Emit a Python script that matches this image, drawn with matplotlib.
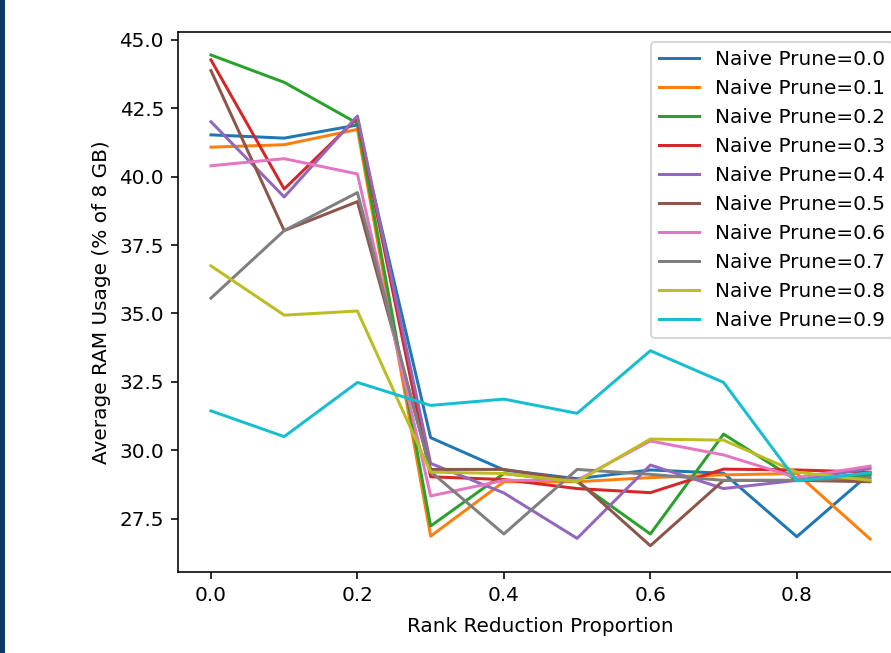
import matplotlib
matplotlib.use("Agg")
import matplotlib.pyplot as plt
from matplotlib.patches import Rectangle

# rank reduction proportions (x axis)
rank_reduction = [0.0, 0.1, 0.2, 0.3, 0.4, 0.5, 0.6, 0.7, 0.8, 0.9]

# average RAM usage (% of 8 GB), one list per naive prune level
prune_levels = [0.0, 0.1, 0.2, 0.3, 0.4, 0.5, 0.6, 0.7, 0.8, 0.9]
ram_p00 = [41.53, 41.41, 41.89, 30.46, 29.28, 28.96, 29.28, 29.16, 26.84, 29.16]
ram_p01 = [41.08, 41.17, 41.73, 26.86, 28.85, 28.85, 29.00, 29.10, 29.15, 26.76]
ram_p02 = [44.45, 43.45, 41.95, 27.23, 29.15, 28.85, 26.94, 30.59, 28.90, 29.10]
ram_p03 = [44.27, 39.55, 42.15, 29.03, 28.93, 28.60, 28.45, 29.31, 29.28, 29.20]
ram_p04 = [42.01, 39.26, 42.22, 29.52, 28.44, 26.78, 29.46, 28.60, 28.90, 29.34]
ram_p05 = [43.88, 38.03, 39.09, 29.30, 29.30, 28.90, 26.51, 28.90, 28.90, 28.85]
ram_p06 = [40.40, 40.66, 40.10, 28.33, 28.90, 28.90, 30.34, 29.83, 29.00, 29.42]
ram_p07 = [35.56, 38.03, 39.42, 29.22, 26.94, 29.30, 29.12, 28.90, 28.90, 29.00]
ram_p08 = [36.74, 34.94, 35.09, 29.20, 29.15, 28.85, 30.41, 30.37, 29.20, 28.90]
ram_p09 = [31.44, 30.50, 32.48, 31.64, 31.87, 31.35, 33.64, 32.48, 28.88, 29.18]

series = [ram_p00, ram_p01, ram_p02, ram_p03, ram_p04,
          ram_p05, ram_p06, ram_p07, ram_p08, ram_p09]

fig = plt.figure(figsize=(891 / 144, 653 / 144), dpi=144)
# the original screenshot is cropped: axes run past the right edge
ax = fig.add_axes([178 / 891, 81 / 653, 725 / 891, 540 / 653])

for p, ram in zip(prune_levels, series):
    ax.plot(rank_reduction, ram, label=f"Naive Prune={p}")

ax.set_xlabel("Rank Reduction Proportion", labelpad=6)
ax.set_ylabel("Average RAM Usage (% of 8 GB)")
ax.set_xticks([0.0, 0.2, 0.4, 0.6, 0.8])
ax.set_ylim(25.55, 45.29)
ax.legend(loc="upper right")

# dark strip on the left edge of the screenshot
fig.patches.append(Rectangle((0, 0), 4 / 891, 1, transform=fig.transFigure,
                             color="#0c3a68", zorder=10))

fig.savefig("out.png", dpi=144)
